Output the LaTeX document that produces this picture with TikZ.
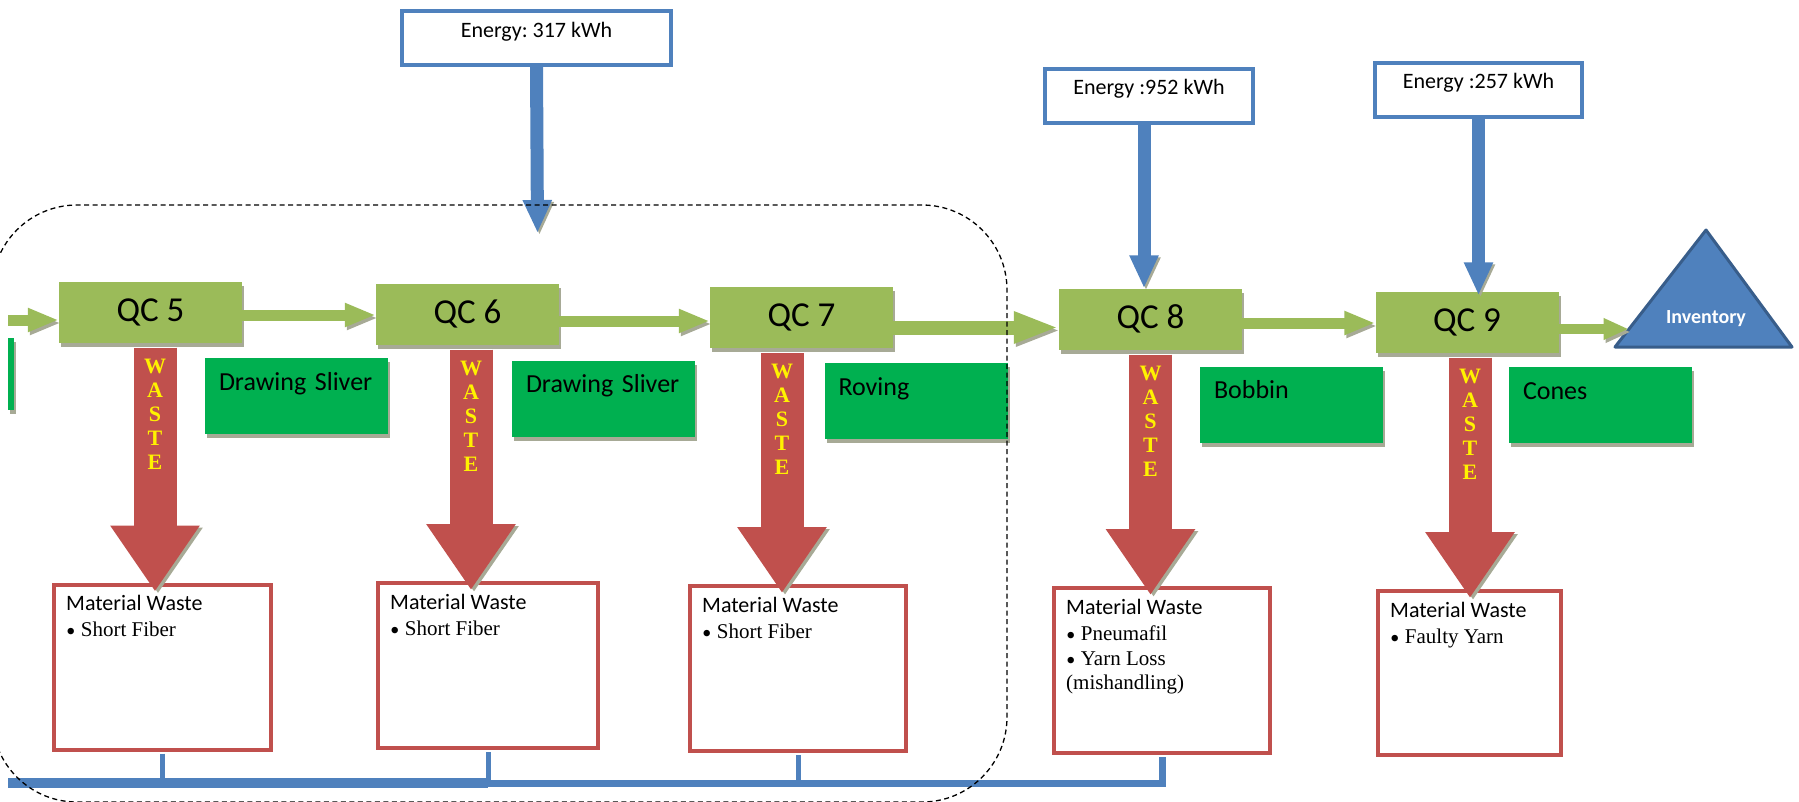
\documentclass[tikz,border=0pt]{standalone}
\usepackage{fontspec}
\setmainfont{Carlito}
\newfontfamily\tnr{Liberation Serif}
\usepackage{tikz}
\usetikzlibrary{arrows.meta,calc,shadows}
\frenchspacing
\definecolor{qcg}{HTML}{9BBB59}
\definecolor{prodg}{HTML}{00B050}
\definecolor{wred}{HTML}{C0504D}
\definecolor{eblue}{HTML}{4F81BD}
\definecolor{iblue}{HTML}{385D8A}
\definecolor{shd}{HTML}{A7AA96}
\newcommand\bul{\raisebox{-4pt}{\fontsize{27}{25}\selectfont\textbullet}\ }
\newcommand\mwhead{{\normalfont\fontsize{22}{25}\selectfont Material Waste}\\[1pt]}
\tikzset{
  shdw/.style={drop shadow={shadow xshift=2pt,shadow yshift=-4pt,fill=shd,opacity=1}},
  qcbox/.style={fill=qcg,shdw,minimum width=183pt,minimum height=61pt,inner sep=0pt,font=\fontsize{35}{40}\selectfont},
  prod/.style={fill=prodg,shdw,text width=155pt,inner xsep=14pt,inner ysep=0pt,text height=32pt,text depth=44pt,align=left,font=\fontsize{26}{30}\selectfont},
  ebox/.style={draw=eblue,line width=4pt,fill=white,inner sep=0pt,text height=26pt,text depth=28pt,font=\fontsize{22}{26}\selectfont},
  mwbox/.style={draw=wred,line width=4pt,fill=white,minimum width=216pt,minimum height=165pt,inner sep=0pt},
  mwtxt/.style={anchor=north west,inner sep=0pt,align=left,font=\tnr\fontsize{21}{25}\selectfont},
  wlbl/.style={anchor=north,inner sep=0pt,align=center,text=yellow,font=\tnr\bfseries\fontsize{22}{24}\selectfont},
  flow/.style={draw=qcg,line width=11pt,-{Triangle[length=31pt,width=22pt]},
    preaction={draw=shd,transform canvas={shift={(2pt,-3pt)}}}},
  waste/.style={draw=wred,line width=43pt,shorten >=-9pt,-{Triangle[length=66pt,width=85pt]},
    preaction={draw=shd,transform canvas={shift={(3pt,-2pt)}}}},
  energy/.style={draw=eblue,line width=13pt,-{Triangle[length=33pt,width=27pt]},
    preaction={draw=shd,transform canvas={shift={(2pt,-2pt)}}}},
  bus/.style={draw=eblue,line width=5pt},
  grp/.style={draw=black,line width=1.3pt,dash pattern=on 5pt off 3.5pt,rounded corners=85pt},
}

\begin{document}
\begin{tikzpicture}[x=1pt,y=-1pt]
\useasboundingbox (0,0) rectangle (1799,801);
% energy inputs
\node[ebox,minimum width=269pt] (e317) at (536.5,38) {Energy: 317 kWh};
\node[ebox,minimum width=208pt] (e952) at (1149,95.5) {Energy :952 kWh};
\node[ebox,minimum width=207pt] (e257) at (1478.5,89.5) {Energy :257 kWh};
% quality checks
\node[qcbox] (qc5) at (150.5,312) {QC 5};
\node[qcbox] (qc6) at (467.5,314) {QC 6};
\node[qcbox] (qc7) at (801.5,317.5) {QC 7};
\node[qcbox] (qc8) at (1150.5,319) {QC 8};
\node[qcbox] (qc9) at (1467,322) {QC 9};
% products
\node[fill=prodg,shdw,minimum width=6pt,minimum height=72pt,inner sep=0pt] (prev) at (11,374) {};
\node[prod] (ds1) at (296.5,396) {Drawing Sliver};
\node[prod] (ds2) at (603.5,398.5) {Drawing Sliver};
\node[prod] (rov) at (916,401) {Roving};
\node[prod] (bob) at (1291.5,404.5) {Bobbin};
\node[prod] (con) at (1600.5,405) {Cones};
% material waste
\node[mwbox,minimum width=217pt] (mw1) at (162.5,667) {};
\node[mwbox,minimum width=220pt] (mw2) at (488,665.5) {};
\node[mwbox] (mw3) at (798,668.5) {};
\node[mwbox] (mw4) at (1162,670.5) {};
\node[mwbox,minimum width=183pt,minimum height=164pt] (mw5) at (1469.5,673) {};
\node[mwtxt] (mw1t) at ([shift={(14,13)}]mw1.north west) {\mwhead\bul Short Fiber};
\node[mwtxt] (mw2t) at ([shift={(14,13)}]mw2.north west) {\mwhead\bul Short Fiber};
\node[mwtxt] (mw3t) at ([shift={(14,13)}]mw3.north west) {\mwhead\bul Short Fiber};
\node[mwtxt] (mw4t) at ([shift={(14,13)}]mw4.north west) {\mwhead\bul Pneumafil\\\bul Yarn Loss\\[-1pt](mishandling)};
\node[mwtxt] (mw5t) at ([shift={(14,13)}]mw5.north west) {\mwhead\bul Faulty Yarn};
% waste arrows
\foreach \q/\m/\dx in {qc5/mw1/4.5,qc6/mw2/3.5,qc7/mw3/-19.5,qc8/mw4/0,qc9/mw5/3}{
  \draw[waste] ([xshift=\dx pt,yshift=-5pt]\q.south) -- ([xshift=\dx pt]\q.south |- \m.north);
  \node[wlbl] (w-\q) at ([xshift=\dx pt,yshift=-16pt]\q.south) {W\\A\\S\\T\\E};
}
% collection line
\coordinate (busL) at (8,783);
\draw[bus,line width=10pt] (busL) -- (busL -| mw2.south);
\draw[bus,line width=7pt] (busL -| mw2.south) -- (busL -| mw4.south) -- ([yshift=-2pt]mw4.south);
\foreach \m in {mw1,mw2,mw3}
  \draw[bus,shorten <=2pt] (\m.south) -- (\m.south |- busL);
% inventory
\coordinate (invL) at (1615,347);
\coordinate (invT) at (1706,230);
\coordinate (invR) at (1792,347);
\filldraw[fill=eblue,draw=iblue,line width=3pt,line join=round] (invL) -- (invT) -- (invR) -- cycle;
\node[text=white,font=\bfseries\fontsize{20}{24}\selectfont] (inv) at (1706,319) {Inventory};
\coordinate (invin) at ($(invL)!0.15!(invT)$);
% material flow
\coordinate (src) at (8,320);
\draw[flow] (src) -- (src -| qc5.west);
\draw[flow] ([yshift=-3pt]qc5.east) -- ([yshift=-3pt]qc5.east -| qc6.west);
\draw[flow] ([yshift=-7pt]qc6.east) -- ([yshift=-7pt]qc6.east -| qc7.west);
\draw[flow,line width=14pt,-{Triangle[length=45pt,width=29pt]}] ([yshift=-10pt]qc7.east) -- ([yshift=-10pt]qc7.east -| qc8.west);
\draw[flow] ([yshift=-4pt]qc8.east) -- ([yshift=-4pt]qc8.east -| qc9.west);
\draw[flow,line width=10pt,-{Triangle[length=25pt,width=20pt]}] ([yshift=-7pt]qc9.east) -- ([yshift=-7pt]qc9.east -| invin);
% energy arrows
\coordinate (e317end) at (537.5,233);
\draw[energy] (e317.south) -- (e317end);
\draw[energy] ([xshift=-5pt]e952.south) -- ([xshift=-5pt]e952.south |- qc8.north);
\draw[energy] (e257.south) -- ([yshift=-4pt]e257.south |- qc9.north);
% group boundary
\draw[grp] (-8,205) rectangle (1007,802);
\end{tikzpicture}
\end{document}
